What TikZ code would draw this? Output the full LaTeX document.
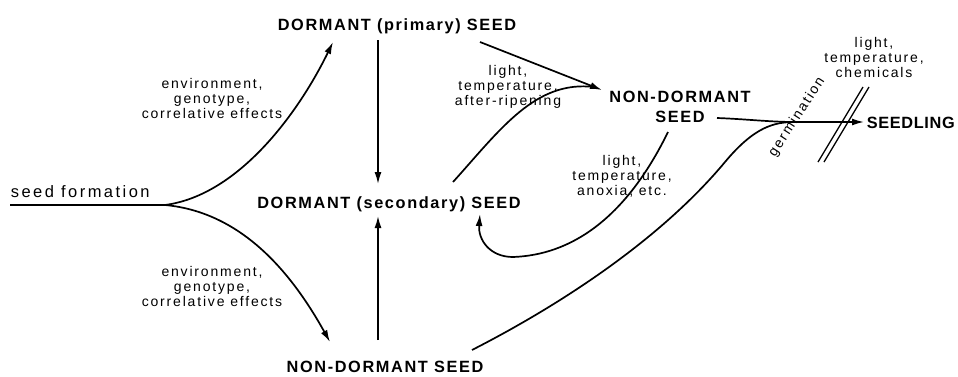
\documentclass[tikz,border=0pt]{standalone}
\usepackage{fontspec}
\setmainfont{Liberation Sans}
\usetikzlibrary{arrows.meta}
\begin{document}
\begin{tikzpicture}[x=1pt,y=-1pt,line width=1.7pt,
  big/.style={font=\fontsize{16.3}{20}\selectfont\bfseries\addfontfeature{LetterSpace=10}, inner sep=0pt, align=center},
  tight/.style={font=\fontsize{16.3}{20}\selectfont\bfseries\addfontfeature{LetterSpace=4}, inner sep=0pt},
  mid/.style={font=\fontsize{16.5}{20}\selectfont\addfontfeature{LetterSpace=15}, inner sep=0pt},
  lbl/.style={font=\fontsize{14}{15}\selectfont\addfontfeature{LetterSpace=13}, inner sep=0pt, align=center},
  arr/.style={-{Latex[length=12pt,width=7pt]}},
  slash/.style={line width=1.3pt}]
\useasboundingbox (0,0) rectangle (958,376);

% states
\node[big, anchor=base] (dp) at (397,30) {DORMANT (primary) SEED};
\node[big, anchor=base] (ds) at (389,208) {DORMANT (secondary) SEED};
\node[big, anchor=base] (nd) at (385,372) {NON-DORMANT SEED};
\node[big] (nd2) at (680,106.5) {NON-DORMANT\\SEED};
\node[tight, anchor=base west] (sl) at (866,128) {SEEDLING};
\node[mid, anchor=base west] (sf) at (10,197) {seed formation};

% labels
\node[lbl] (l1) at (212,98) {environment,\\genotype,\\correlative effects};
\node[lbl] (l2) at (212,286) {environment,\\genotype,\\correlative effects};
\node[lbl] (l3) at (508,87) {light,\\temperature,\\after-ripening};
\node[lbl] (l4) at (622,176) {light,\\temperature,\\anoxia, etc.};
\node[lbl] (l5) at (874,57) {light,\\temperature,\\chemicals};
\node[lbl, rotate=57] (germ) at (797,117) {germination};

% connector end points
\coordinate (sfl) at (10,205);
\coordinate (fork) at (165,205);
\coordinate (dpin) at (333,42);
\coordinate (ndin) at (330,342);
\coordinate (dpdown) at (378,40);
\coordinate (dsin1) at (378,184);
\coordinate (ndup) at (378,340);
\coordinate (dsin2) at (378,216);
\coordinate (dpout) at (480,42);
\coordinate (nd2in) at (602,90);
\coordinate (dsout) at (453,182);
\coordinate (nd2join) at (594,87);
\coordinate (nd2out) at (668,132);
\coordinate (dsin3) at (480,214);
\coordinate (ndout) at (472,350);
\coordinate (merge) at (795,122);
\coordinate (nd2r) at (717,118);
\coordinate (slin) at (864,122);

% connectors
\draw (sfl) -- (fork);
\draw[arr] (fork) .. controls (240,195) and (300,110) .. (dpin);
\draw[arr] (fork) .. controls (240,212) and (290,270) .. (ndin);
\draw[arr] (dpdown) -- (dsin1);
\draw[arr] (ndup) -- (dsin2);
\draw[arr] (dpout) -- (nd2in);
\draw (dsout) .. controls (500,130) and (535,80) .. (nd2join);
\draw[arr] (nd2out) .. controls (625,220) and (570,255) .. (513,257)
           .. controls (490,257) and (478,240) .. (dsin3);
\draw (ndout) .. controls (560,305) and (660,240) .. (725,162)
      .. controls (755,126) and (775,122) .. (merge);
\draw[arr] (nd2r) .. controls (745,119) and (770,122) .. (merge) -- (slin);

% block marks
\draw[slash] (818,162) -- (863,87);
\draw[slash] (824,162) -- (869,87);
\end{tikzpicture}
\end{document}
